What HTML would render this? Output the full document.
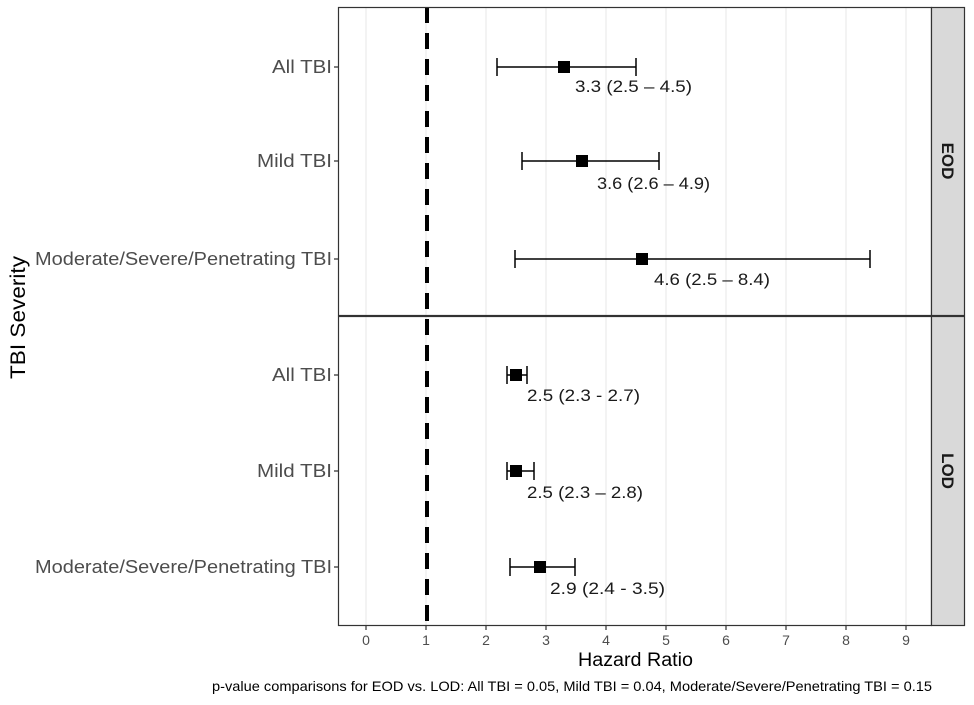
<!DOCTYPE html>
<html><head><style>body{margin:0;background:#fff}</style></head><body>
<svg width="974" height="700" xmlns="http://www.w3.org/2000/svg" font-family="Liberation Sans, sans-serif">
<rect width="974" height="700" fill="#fff"/>
<g stroke="#ebebeb" stroke-width="1.2">
<line x1="366" y1="7" x2="366" y2="625"/><line x1="426" y1="7" x2="426" y2="625"/><line x1="486" y1="7" x2="486" y2="625"/><line x1="546" y1="7" x2="546" y2="625"/><line x1="606" y1="7" x2="606" y2="625"/><line x1="666" y1="7" x2="666" y2="625"/><line x1="726" y1="7" x2="726" y2="625"/><line x1="786" y1="7" x2="786" y2="625"/><line x1="846" y1="7" x2="846" y2="625"/><line x1="906" y1="7" x2="906" y2="625"/>
</g>
<line x1="427" y1="7" x2="427" y2="625" stroke="#000" stroke-width="4" stroke-dasharray="16,10"/>
<rect x="338.5" y="7.5" width="593" height="308" fill="none" stroke="#333" stroke-width="1.2"/>
<rect x="338.5" y="316.5" width="593" height="309" fill="none" stroke="#333" stroke-width="1.2"/>
<rect x="931.5" y="7.5" width="33" height="308" fill="#d9d9d9" stroke="#333" stroke-width="1.2"/>
<rect x="931.5" y="316.5" width="33" height="309" fill="#d9d9d9" stroke="#333" stroke-width="1.2"/>
<text transform="translate(942,161) rotate(90)" text-anchor="middle" font-size="17" font-weight="bold" fill="#1a1a1a">EOD</text>
<text transform="translate(942,471) rotate(90)" text-anchor="middle" font-size="17" font-weight="bold" fill="#1a1a1a">LOD</text>
<g stroke="#000" stroke-width="1.5" fill="none">
<path d="M497,67H636M497,58V76M636,58V76"/>
<path d="M522,161H659M522,152V170M659,152V170"/>
<path d="M515,259H870M515,250V268M870,250V268"/>
<path d="M507,375H527M507,366V384M527,366V384"/>
<path d="M507,471H534M507,462V480M534,462V480"/>
<path d="M510,567H575M510,558V576M575,558V576"/>
</g>
<g fill="#000">
<rect x="558" y="61" width="12" height="12"/><rect x="576" y="155" width="12" height="12"/><rect x="636" y="253" width="12" height="12"/>
<rect x="510" y="369" width="12" height="12"/><rect x="510" y="465" width="12" height="12"/><rect x="534" y="561" width="12" height="12"/>
</g>
<g font-size="17" fill="#1a1a1a">
<text x="575" y="92" textLength="117" lengthAdjust="spacingAndGlyphs">3.3 (2.5 – 4.5)</text>
<text x="597" y="189" textLength="113" lengthAdjust="spacingAndGlyphs">3.6 (2.6 – 4.9)</text>
<text x="654" y="285" textLength="116" lengthAdjust="spacingAndGlyphs">4.6 (2.5 – 8.4)</text>
<text x="527" y="401" textLength="113" lengthAdjust="spacingAndGlyphs">2.5 (2.3 - 2.7)</text>
<text x="527" y="498" textLength="116" lengthAdjust="spacingAndGlyphs">2.5 (2.3 – 2.8)</text>
<text x="550" y="594" textLength="115" lengthAdjust="spacingAndGlyphs">2.9 (2.4 - 3.5)</text>
</g>
<g font-size="18" fill="#4d4d4d">
<text x="272" y="73" textLength="60" lengthAdjust="spacingAndGlyphs">All TBI</text>
<text x="257" y="167" textLength="75" lengthAdjust="spacingAndGlyphs">Mild TBI</text>
<text x="35" y="265" textLength="297" lengthAdjust="spacingAndGlyphs">Moderate/Severe/Penetrating TBI</text>
<text x="272" y="381" textLength="60" lengthAdjust="spacingAndGlyphs">All TBI</text>
<text x="257" y="477" textLength="75" lengthAdjust="spacingAndGlyphs">Mild TBI</text>
<text x="35" y="573" textLength="297" lengthAdjust="spacingAndGlyphs">Moderate/Severe/Penetrating TBI</text>
</g>
<g stroke="#333" stroke-width="1.2">
<path d="M334,67h4M334,161h4M334,259h4M334,375h4M334,471h4M334,567h4"/>
<path d="M366,626v4M426,626v4M486,626v4M546,626v4M606,626v4M666,626v4M726,626v4M786,626v4M846,626v4M906,626v4"/>
</g>
<g font-size="14" fill="#4d4d4d" text-anchor="middle">
<text x="366" y="645">0</text><text x="426" y="645">1</text><text x="486" y="645">2</text><text x="546" y="645">3</text><text x="606" y="645">4</text><text x="666" y="645">5</text><text x="726" y="645">6</text><text x="786" y="645">7</text><text x="846" y="645">8</text><text x="906" y="645">9</text>
</g>
<text x="578" y="666" font-size="19" textLength="115" lengthAdjust="spacingAndGlyphs" fill="#000">Hazard Ratio</text>
<text transform="translate(25,379) rotate(-90)" font-size="21" textLength="123" lengthAdjust="spacingAndGlyphs" fill="#000">TBI Severity</text>
<text x="212" y="691" font-size="14" textLength="720" lengthAdjust="spacingAndGlyphs" fill="#000">p-value comparisons for EOD vs. LOD: All TBI = 0.05, Mild TBI = 0.04, Moderate/Severe/Penetrating TBI = 0.15</text>
</svg>
</body></html>
